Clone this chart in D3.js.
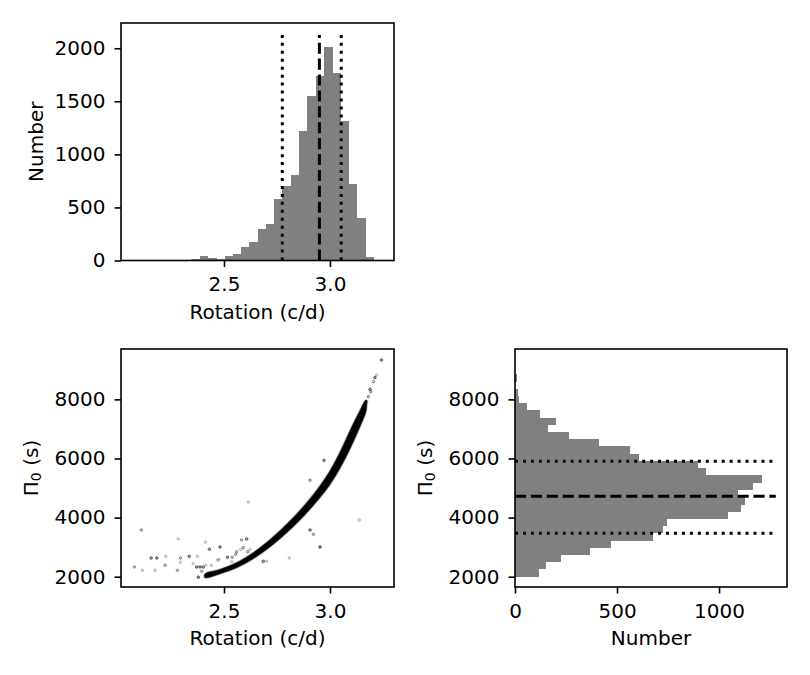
<!DOCTYPE html>
<html>
<head>
<meta charset="utf-8">
<script src="https://cdn.jsdelivr.net/npm/d3@7"></script>
<style>
  html, body { margin: 0; padding: 0; background: #fff; }
  svg { display: block; }
  text { font-family: "DejaVu Sans", sans-serif; fill: #000; }
</style>
</head>
<body>
<svg id="chart" width="810" height="675"></svg>
<script>
// ---------------- DATA ----------------
// Rotation histogram (30 equal bins between rotMin and rotMax)
const rotMin = 2.073, rotMax = 3.244;
const rotCounts = [2, 2, 3, 3, 2, 3, 4, 10, 41, 22, 13, 41, 60, 126, 173, 294, 344, 575, 706, 809,
                   1225, 1550, 1741, 2009, 1766, 1319, 725, 397, 31, 6];
// Π0 histogram (30 equal bins between piMin and piMax)
const piMin = 2017, piMax = 9339;
const piCounts = [118, 152, 225, 368, 471, 676, 725, 745, 1044, 1108, 1127, 1093, 1167, 1211, 936,
                  897, 608, 564, 412, 265, 162, 201, 123, 57, 20, 15, 2, 10, 1, 1];
// Summary lines (16th percentile, median, 84th percentile)
const rotLines = [2.775, 2.950, 3.053];
const rotLineTop = 2125;
const piLines = [3469, 4721, 5905];
const piLineEnd = 1278;
const lineKinds = ["dotted", "dashed", "dotted"];
// Dense core of the scatter: rotation samples with upper and lower Π0 edges
const bandRot   = [2.41, 2.48, 2.56, 2.64, 2.72, 2.80, 2.88, 2.95, 3.00, 3.05, 3.10, 3.14, 3.17];
const bandUpper = [2087, 2238, 2470, 2817, 3267, 3798, 4410, 5038, 5573, 6243, 7018, 7593, 7978];
const bandLower = [1973, 2102, 2310, 2623, 3033, 3522, 4090, 4662, 5127, 5717, 6422, 7067, 7622];
// Individual scatter points [rotation, Π0, weight]
const scatterPts = [
  [2.077, 2328, 0.6], [2.110, 3580, 0.6], [2.115, 2217, 0.35], [2.156, 2633, 0.9], [2.183, 2633, 0.9],
  [2.175, 2217, 0.35], [2.222, 2386, 0.6], [2.225, 2690, 0.35], [2.280, 2217, 0.6], [2.284, 3276, 0.35],
  [2.294, 2633, 0.6], [2.294, 2487, 0.35], [2.336, 2690, 0.9], [2.355, 2440, 0.35], [2.374, 2690, 0.35],
  [2.371, 2328, 0.9], [2.387, 2328, 0.9], [2.402, 2328, 0.9], [2.379, 1980, 1.0], [2.395, 2183, 0.6],
  [2.412, 3164, 0.35], [2.431, 2927, 0.9], [2.481, 3005, 0.9], [2.415, 2386, 0.35], [2.440, 2386, 0.35],
  [2.469, 2555, 0.35], [2.476, 2589, 0.35], [2.516, 2657, 0.9], [2.539, 2657, 0.6], [2.536, 2508, 0.35],
  [2.555, 2758, 0.6], [2.560, 2846, 0.6], [2.583, 3242, 0.6], [2.607, 3276, 0.9], [2.579, 2927, 0.35],
  [2.591, 2981, 0.6], [2.612, 2846, 0.6], [2.623, 2927, 0.35], [2.615, 4528, 0.35], [2.685, 2521, 0.9],
  [2.701, 2521, 0.35], [2.808, 2633, 0.35], [2.906, 3580, 0.9], [2.922, 3435, 0.6], [2.953, 3005, 1.0],
  [2.906, 5262, 0.6], [2.972, 5939, 0.9], [3.138, 3919, 0.35],
  [3.157, 7777, 0.6], [3.173, 7923, 0.6], [3.181, 8092, 0.6], [3.189, 8341, 0.9], [3.192, 8261, 0.6],
  [3.205, 8599, 0.6], [3.212, 8735, 0.9], [3.220, 8826, 0.35], [3.243, 9333, 0.9]
];
// Tick labels
const rotTicks = [2.5, 3.0];
const countTicksTop = [0, 500, 1000, 1500, 2000];
const piTicks = [2000, 4000, 6000, 8000];
const countTicksRight = [0, 500, 1000];

// ---------------- LAYOUT ----------------
const svg = d3.select("#chart");
const FS = 20;
const TICK = 6.5;
const boxes = {
  top:  {l: 121, r: 394, t: 23,  b: 260.5},
  bl:   {l: 121, r: 394, t: 349, b: 587},
  br:   {l: 515, r: 787, t: 349, b: 587}
};
const dashes = { dotted: "3,4.95", dashed: "11.1,4.8" };

const xRotTop = d3.scaleLinear().domain([2.014, 3.302]).range([boxes.top.l, boxes.top.r]);
const yCntTop = d3.scaleLinear().domain([0, 2238]).range([boxes.top.b, boxes.top.t]);
const xRotBL = d3.scaleLinear().domain([2.014, 3.302]).range([boxes.bl.l, boxes.bl.r]);
const yPiBL = d3.scaleLinear().domain([1651, 9705]).range([boxes.bl.b, boxes.bl.t]);
const xCntBR = d3.scaleLinear().domain([0, 1333]).range([boxes.br.l, boxes.br.r]);
const yPiBR = d3.scaleLinear().domain([1651, 9705]).range([boxes.br.b, boxes.br.t]);

function edges(lo, hi, n) {
  const w = (hi - lo) / n;
  return d3.range(n + 1).map(i => lo + i * w);
}
const rotEdges = edges(rotMin, rotMax, rotCounts.length);
const piEdges = edges(piMin, piMax, piCounts.length);

// ---------------- TOP HISTOGRAM ----------------
const gTop = svg.append("g");
gTop.selectAll("rect.bar").data(rotCounts).join("rect")
  .attr("class", "bar")
  .attr("shape-rendering", "crispEdges")
  .attr("x", (d, i) => xRotTop(rotEdges[i]))
  .attr("width", (d, i) => xRotTop(rotEdges[i + 1]) - xRotTop(rotEdges[i]) + 0.5)
  .attr("y", d => yCntTop(d))
  .attr("height", d => yCntTop(0) - yCntTop(d))
  .attr("fill", "#808080");
rotLines.forEach((v, i) => {
  gTop.append("path")
    .attr("d", d3.line().x(p => xRotTop(p[0])).y(p => yCntTop(p[1]))([[v, 0], [v, rotLineTop]]))
    .attr("stroke", "#000").attr("stroke-width", 3).attr("fill", "none")
    .attr("stroke-dasharray", dashes[lineKinds[i]]);
});

// ---------------- SCATTER ----------------
const gBL = svg.append("g");
const bandPoly = bandRot.map((r, i) => [r, bandUpper[i]])
  .concat(bandRot.map((r, i) => [r, bandLower[i]]).reverse());
const bandLine = d3.line().x(p => xRotBL(p[0])).y(p => yPiBL(p[1])).curve(d3.curveCatmullRomClosed.alpha(0.5));
gBL.append("path").attr("d", bandLine(bandPoly))
  .attr("fill", "none").attr("stroke", "#000").attr("stroke-opacity", 0.3).attr("stroke-width", 2.2);
gBL.append("path").attr("d", bandLine(bandPoly))
  .attr("fill", "#000").attr("stroke", "#000").attr("stroke-width", 0.6);
gBL.selectAll("circle").data(scatterPts).join("circle")
  .attr("cx", d => xRotBL(d[0]))
  .attr("cy", d => yPiBL(d[1]))
  .attr("r", 1.3)
  .attr("fill", "#000").attr("fill-opacity", d => d[2] * 0.35)
  .attr("stroke", "#000").attr("stroke-opacity", d => d[2] * 0.85).attr("stroke-width", 0.7);

// ---------------- RIGHT HISTOGRAM ----------------
const gBR = svg.append("g");
gBR.selectAll("rect.bar").data(piCounts).join("rect")
  .attr("class", "bar")
  .attr("shape-rendering", "crispEdges")
  .attr("x", xCntBR(0))
  .attr("width", d => xCntBR(d) - xCntBR(0))
  .attr("y", (d, i) => yPiBR(piEdges[i + 1]))
  .attr("height", (d, i) => yPiBR(piEdges[i]) - yPiBR(piEdges[i + 1]) + 0.5)
  .attr("fill", "#808080");
piLines.forEach((v, i) => {
  gBR.append("path")
    .attr("d", d3.line().x(p => xCntBR(p[0])).y(p => yPiBR(p[1]))([[0, v], [piLineEnd, v]]))
    .attr("stroke", "#000").attr("stroke-width", 3).attr("fill", "none")
    .attr("stroke-dasharray", dashes[lineKinds[i]]);
});

// ---------------- AXES ----------------
function styleAxis(g) {
  g.select(".domain").remove();
  g.selectAll(".tick line").attr("stroke", "#000").attr("stroke-width", 1.6);
  g.selectAll(".tick text").attr("font-size", FS).attr("font-family", "DejaVu Sans").attr("fill", "#000");
}
function bottomAxis(scale, ticks, fmt, box) {
  svg.append("g").attr("transform", `translate(0,${box.b})`)
    .call(d3.axisBottom(scale).tickValues(ticks).tickFormat(fmt).tickSize(TICK).tickPadding(9.8))
    .call(styleAxis);
}
function leftAxis(scale, ticks, fmt, box) {
  svg.append("g").attr("transform", `translate(${box.l},0)`)
    .call(d3.axisLeft(scale).tickValues(ticks).tickFormat(fmt).tickSize(TICK).tickPadding(9))
    .call(styleAxis);
}
const f1 = d3.format(".1f"), f0 = d3.format("d");
bottomAxis(xRotTop, rotTicks, f1, boxes.top);
leftAxis(yCntTop, countTicksTop, f0, boxes.top);
bottomAxis(xRotBL, rotTicks, f1, boxes.bl);
leftAxis(yPiBL, piTicks, f0, boxes.bl);
bottomAxis(xCntBR, countTicksRight, f0, boxes.br);
leftAxis(yPiBR, piTicks, f0, boxes.br);

// spines
Object.values(boxes).forEach(b => {
  svg.append("rect").attr("x", b.l).attr("y", b.t)
    .attr("width", b.r - b.l).attr("height", b.b - b.t)
    .attr("fill", "none").attr("stroke", "#000").attr("stroke-width", 1.6);
});

// ---------------- LABELS ----------------
function xLabel(box, txt) {
  svg.append("text").attr("x", (box.l + box.r) / 2).attr("y", box.b + 58)
    .attr("text-anchor", "middle").attr("font-size", FS).text(txt);
}
function yLabelPlain(box, txt, off) {
  svg.append("text")
    .attr("transform", `translate(${box.l - off},${(box.t + box.b) / 2}) rotate(-90)`)
    .attr("text-anchor", "middle").attr("font-size", FS).text(txt);
}
function yLabelPi(box, off) {
  const t = svg.append("text")
    .attr("transform", `translate(${box.l - off},${(box.t + box.b) / 2}) rotate(-90)`)
    .attr("text-anchor", "middle").attr("font-size", FS);
  t.append("tspan").text("Π");
  t.append("tspan").attr("font-size", 14).attr("dy", 3).text("0");
  t.append("tspan").attr("dy", -3).text(" (s)");
}
xLabel(boxes.top, "Rotation (c/d)");
yLabelPlain(boxes.top, "Number", 78);
xLabel(boxes.bl, "Rotation (c/d)");
yLabelPi(boxes.bl, 83);
xLabel(boxes.br, "Number");
yLabelPi(boxes.br, 83);
</script>
</body>
</html>
